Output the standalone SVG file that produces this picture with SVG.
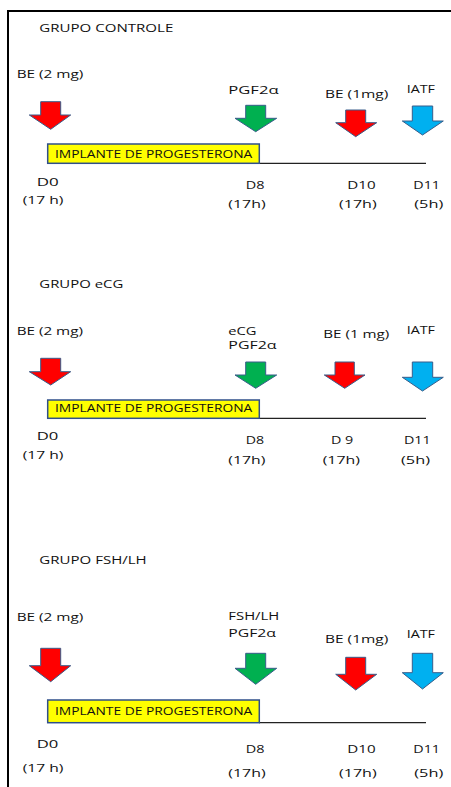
<svg xmlns="http://www.w3.org/2000/svg" width="451" height="787" viewBox="0 0 451 787">
<style>
text{font-family:"Open Sans","Liberation Sans",sans-serif;font-size:11.5px;fill:#111;lengthAdjust:spacingAndGlyphs}
.ar{stroke:#385D8A;stroke-width:1;stroke-linejoin:miter}
.red{fill:#FF0000}.grn{fill:#00B050}.blu{fill:#00B0F0}
.box{fill:#FFFF00;stroke:#2F4F8A;stroke-width:1.5}
.tl{stroke:#222;stroke-width:1.2}
.frame{stroke:#000;stroke-width:2;fill:none}
</style>
<rect width="451" height="787" fill="#fff"/>
<path class="frame" d="M8,787 V11 H451"/>

<g id="grupo-controle">
<text x="39.3" y="32" textLength="134" lengthAdjust="spacingAndGlyphs">GRUPO CONTROLE</text>
<g id="c-be2">
<text x="16.7" y="78.3" textLength="66.7" lengthAdjust="spacingAndGlyphs">BE (2 mg)</text>
<path class="ar red" d="M40.7,101.7 H60.7 V115 H70.7 L50.7,129.3 L29.3,115 H40.7 Z"/>
</g>
<g id="c-pgf">
<text x="228.3" y="94.3" textLength="50.3" lengthAdjust="spacingAndGlyphs">PGF2α</text>
<path class="ar grn" d="M245.7,105.3 H265.7 V118.3 H276.7 L255.7,131.7 L235,118.3 H245.7 Z"/>
</g>
<g id="c-be1">
<text x="325" y="97.7" textLength="63.3" lengthAdjust="spacingAndGlyphs">BE (1mg)</text>
<path class="ar red" d="M345.7,110 H365.7 V122.7 H376.7 L355.7,136.7 L335.7,122.7 H345.7 Z"/>
</g>
<g id="c-iatf">
<text x="406.7" y="93.3" textLength="28.3" lengthAdjust="spacingAndGlyphs">IATF</text>
<path class="ar blu" d="M412.3,106 H432.7 V121 H443.3 L422.5,135 L402.3,121 H412.3 Z"/>
</g>
<g id="c-implante">
<line class="tl" x1="259" y1="163.3" x2="426" y2="163.3"/>
<rect class="box" x="47.7" y="144" width="211.6" height="19.3"/>
<text x="55" y="157.5" textLength="197.3" lengthAdjust="spacingAndGlyphs">IMPLANTE DE PROGESTERONA</text>
</g>
<g id="c-days">
<text x="36.7" y="185.7" textLength="22" lengthAdjust="spacingAndGlyphs">D0</text>
<text x="22.7" y="204" textLength="40.7" lengthAdjust="spacingAndGlyphs">(17 h)</text>
<text x="245.7" y="189" textLength="18.7" lengthAdjust="spacingAndGlyphs">D8</text>
<text x="228.3" y="208.3" textLength="37.3" lengthAdjust="spacingAndGlyphs">(17h)</text>
<text x="347.3" y="189" textLength="28.3" lengthAdjust="spacingAndGlyphs">D10</text>
<text x="339" y="208.3" textLength="37.7" lengthAdjust="spacingAndGlyphs">(17h)</text>
<text x="413.3" y="189" textLength="26.7" lengthAdjust="spacingAndGlyphs">D11</text>
<text x="414.3" y="208.3" textLength="29" lengthAdjust="spacingAndGlyphs">(5h)</text>
</g>
</g>

<g id="grupo-ecg">
<text x="39.3" y="288.3" textLength="84" lengthAdjust="spacingAndGlyphs">GRUPO eCG</text>
<g id="e-be2">
<text x="16.7" y="335" textLength="66.3" lengthAdjust="spacingAndGlyphs">BE (2 mg)</text>
<path class="ar red" d="M40.7,358.3 H60.7 V371.7 H70.7 L50.7,385 L29.3,371.7 H40.7 Z"/>
</g>
<g id="e-pgf">
<text x="228.3" y="335" textLength="28.3" lengthAdjust="spacingAndGlyphs">eCG</text>
<text x="228.3" y="349.3" textLength="48.3" lengthAdjust="spacingAndGlyphs">PGF2α</text>
<path class="ar grn" d="M245.7,362 H265.7 V375 H276.7 L255.7,388.3 L235,375 H245.7 Z"/>
</g>
<g id="e-be1">
<text x="323.3" y="337.7" textLength="66" lengthAdjust="spacingAndGlyphs">BE (1 mg)</text>
<path class="ar red" d="M335,362 H354.3 V375 H365 L344.7,388.3 L324.3,375 H335 Z"/>
</g>
<g id="e-iatf">
<text x="406.7" y="334" textLength="28.3" lengthAdjust="spacingAndGlyphs">IATF</text>
<path class="ar blu" d="M412.3,362 H432.7 V377.3 H443.3 L422.5,391 L402.3,377.3 H412.3 Z"/>
</g>
<g id="e-implante">
<line class="tl" x1="259" y1="418.3" x2="426" y2="418.3"/>
<rect class="box" x="47.7" y="400" width="211.6" height="18.3"/>
<text x="55" y="412.3" textLength="197.3" lengthAdjust="spacingAndGlyphs">IMPLANTE DE PROGESTERONA</text>
</g>
<g id="e-days">
<text x="36.7" y="440" textLength="21.6" lengthAdjust="spacingAndGlyphs">D0</text>
<text x="22.7" y="459" textLength="40.7" lengthAdjust="spacingAndGlyphs">(17 h)</text>
<text x="245.7" y="444.3" textLength="18.3" lengthAdjust="spacingAndGlyphs">D8</text>
<text x="228.3" y="464" textLength="37" lengthAdjust="spacingAndGlyphs">(17h)</text>
<text x="331" y="444.3" textLength="22.3" lengthAdjust="spacingAndGlyphs">D 9</text>
<text x="322.7" y="464" textLength="37.3" lengthAdjust="spacingAndGlyphs">(17h)</text>
<text x="404" y="444.3" textLength="26.7" lengthAdjust="spacingAndGlyphs">D11</text>
<text x="401" y="464" textLength="29" lengthAdjust="spacingAndGlyphs">(5h)</text>
</g>
</g>

<g id="grupo-fshlh">
<text x="39.3" y="564" textLength="107.4" lengthAdjust="spacingAndGlyphs">GRUPO FSH/LH</text>
<g id="f-be2">
<text x="16.7" y="621" textLength="66.6" lengthAdjust="spacingAndGlyphs">BE (2 mg)</text>
<path class="ar red" d="M40.7,648.3 H60.7 V665.7 H70.7 L50.7,681.7 L29.3,665.7 H40.7 Z"/>
</g>
<g id="f-pgf">
<text x="228.3" y="620" textLength="51" lengthAdjust="spacingAndGlyphs">FSH/LH</text>
<text x="228.3" y="636.7" textLength="47.7" lengthAdjust="spacingAndGlyphs">PGF2α</text>
<path class="ar grn" d="M245.7,653.3 H265.7 V668.3 H276.7 L255.7,684.3 L235,668.3 H245.7 Z"/>
</g>
<g id="f-be1">
<text x="325" y="643.3" textLength="63.3" lengthAdjust="spacingAndGlyphs">BE (1mg)</text>
<path class="ar red" d="M345.7,657.3 H365.7 V674.3 H376.7 L355.7,690 L335.7,674.3 H345.7 Z"/>
</g>
<g id="f-iatf">
<text x="406.7" y="637.7" textLength="28.3" lengthAdjust="spacingAndGlyphs">IATF</text>
<path class="ar blu" d="M412.3,653.3 H432.7 V672.7 H443.3 L422.5,689 L402.3,672.7 H412.3 Z"/>
</g>
<g id="f-implante">
<line class="tl" x1="259" y1="722.7" x2="426" y2="722.7"/>
<rect class="box" x="47.7" y="700" width="211.6" height="22.7"/>
<text x="55" y="715.3" textLength="197.3" lengthAdjust="spacingAndGlyphs">IMPLANTE DE PROGESTERONA</text>
</g>
<g id="f-days">
<text x="36.7" y="748.3" textLength="21.6" lengthAdjust="spacingAndGlyphs">D0</text>
<text x="22.7" y="771.7" textLength="40.7" lengthAdjust="spacingAndGlyphs">(17 h)</text>
<text x="245.7" y="753.3" textLength="18.7" lengthAdjust="spacingAndGlyphs">D8</text>
<text x="228.3" y="776.7" textLength="37.3" lengthAdjust="spacingAndGlyphs">(17h)</text>
<text x="347.3" y="753.3" textLength="28.3" lengthAdjust="spacingAndGlyphs">D10</text>
<text x="339" y="776.7" textLength="37.7" lengthAdjust="spacingAndGlyphs">(17h)</text>
<text x="413.3" y="753.3" textLength="26.7" lengthAdjust="spacingAndGlyphs">D11</text>
<text x="414.3" y="776.7" textLength="29" lengthAdjust="spacingAndGlyphs">(5h)</text>
</g>
</g>
</svg>
